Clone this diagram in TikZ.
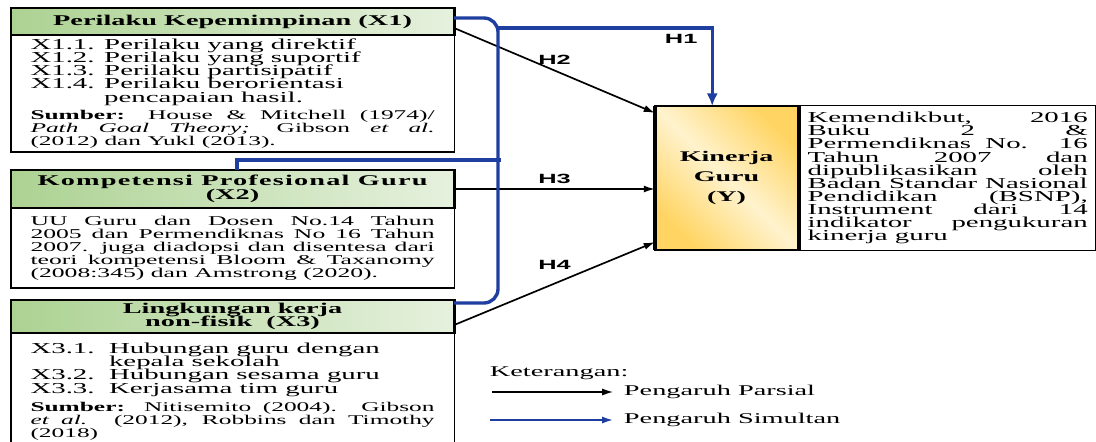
\documentclass[tikz,border=0pt]{standalone}
\usepackage{fontspec}
\setmainfont{Liberation Serif}[FakeStretch=1.9]
\newfontfamily\hfont{Liberation Sans}[FakeStretch=1.9]
\usetikzlibrary{arrows.meta,shapes,positioning,calc}

\definecolor{hdrgreen}{RGB}{172,210,146}
\definecolor{hdrpale}{RGB}{230,241,222}
\definecolor{ygold}{RGB}{255,212,98}
\definecolor{ypale}{RGB}{255,243,206}
\definecolor{simblue}{RGB}{30,62,160}

\setlength{\lineskiplimit}{-10pt}
\setlength{\normallineskiplimit}{-10pt}
\newcommand{\tightfont}[2]{\fontsize{#1}{#2}\selectfont\lineskiplimit=-10pt\relax}
\newcommand{\itemfont}{\tightfont{10.8}{9.4}}
\newcommand{\srcfont}{\tightfont{9.5}{9.3}}

\begin{document}
\begin{tikzpicture}[x=0.025cm, y=-0.025cm,
    >={Latex[length=8pt,width=5pt]},
    head/.style={rectangle, draw, line width=2pt, outer sep=0pt, inner sep=0pt,
        left color=hdrgreen, right color=hdrpale, minimum width=11.075cm,
        align=center, font=\bfseries\tightfont{10.6}{9.8}},
    body/.style={rectangle, draw, line width=0.9pt, outer sep=0pt, minimum width=11.075cm,
        text width=10.1cm, inner xsep=0.49cm, inner ysep=2pt, align=justify},
    ybox/.style={rectangle, draw, line width=0.9pt, outer sep=0pt,
        left color=ygold, right color=ygold, middle color=ypale, shading angle=135,
        minimum width=3.575cm, minimum height=3.6cm, align=center,
        font=\bfseries\tightfont{10.5}{14.2}},
    srcbox/.style={rectangle, draw, line width=0.8pt, outer sep=0pt,
        minimum width=7.375cm, minimum height=3.625cm, text width=7cm, inner xsep=0.19cm,
        align=justify, font=\tightfont{10.8}{9.3}},
    partial/.style={->, line width=1.2pt},
    simul/.style={line width=2.4pt, draw=simblue},
    hlabel/.style={font=\hfont\bfseries\fontsize{9.5}{10}\selectfont},
    legend/.style={anchor=west, font=\fontsize{10.6}{12}\selectfont}]

  \useasboundingbox (0,0) rectangle (1096,441);

  % Variabel X1
  \node [head, anchor=north west, minimum height=0.675cm] (x1_head) at (11,8) {Perilaku Kepemimpinan (X1)};
  \node [body, below=0pt of x1_head, minimum height=2.925cm] (x1_body) {%
    {\itemfont X1.1. Perilaku yang direktif\\
    X1.2. Perilaku yang suportif\\
    X1.3. Perilaku partisipatif\\
    X1.4. Perilaku berorientasi\\
    \phantom{X1.4. }pencapaian hasil.\par}
    \vspace{3pt}
    {\srcfont\textbf{Sumber:} House \& Mitchell (1974)/\linebreak
    \textit{Path Goal Theory;} Gibson \textit{et al.}\linebreak
    (2012) dan Yukl (2013).\par}};

  % Variabel X2
  \node [head, anchor=north west, minimum height=0.95cm] (x2_head) at (11,170)
    {\addfontfeature{LetterSpace=8}Kompetensi Profesional Guru\\(X2)};
  \node [body, below=0pt of x2_head, minimum height=2cm] (x2_body) {%
    {\tightfont{9.6}{9.3}UU Guru dan Dosen No.14 Tahun\linebreak
    2005 dan Permendiknas No 16 Tahun\linebreak
    2007. juga diadopsi dan disentesa dari\linebreak
    teori kompetensi Bloom \& Taxanomy\linebreak
    (2008:345) dan Amstrong (2020).\par}};

  % Variabel X3
  \node [head, anchor=north west, minimum height=0.825cm] (x3_head) at (11,300) {Lingkungan kerja\\non-fisik\ \ (X3)};
  \node [body, below=0pt of x3_head, inner ysep=7pt] (x3_body) {%
    {\itemfont X3.1.\ \ Hubungan guru dengan\\
    \phantom{X3.1.\ \ }kepala sekolah\\
    X3.2.\ \ Hubungan sesama guru\\
    X3.3.\ \ Kerjasama tim guru\par}
    \vspace{4pt}
    {\srcfont\textbf{Sumber:} Nitisemito (2004). Gibson\linebreak
    \textit{et al.} (2012), Robbins dan Timothy\linebreak
    (2018)\par}};

  % Variabel Y
  \node [ybox, anchor=north west] (y_box) at (655,106) {Kinerja\\Guru\\(Y)};
  \draw [line width=3.5pt] (y_box.north west) -- (y_box.south west);
  \node [srcbox, right=0.05cm of y_box] (y_src) {Kemendikbut, 2016\linebreak
    Buku 2 \&\linebreak
    Permendiknas No. 16\linebreak
    Tahun 2007 dan\linebreak
    dipublikasikan oleh\linebreak
    Badan Standar Nasional\linebreak
    Pendidikan (BSNP),\linebreak
    Instrument dari 14\linebreak
    indikator pengukuran\linebreak
    kinerja guru};

  % Pengaruh parsial
  \draw [partial] ($(x1_head.south east)+(0,-7)$) -- node[hlabel, above] {H2} ($(y_box.north west)+(0,7)$);
  \draw [partial] (x2_head.east) -- node[hlabel, above] {H3} (y_box.west |- x2_head.east);
  \draw [partial] ($(x3_head.south east)+(0,-8)$) -- node[hlabel, above=6pt] {H4} ($(y_box.south west)+(0,-8)$);

  % Pengaruh simultan
  \coordinate (bus_top) at (498,28);
  \coordinate (bus_mid) at (501,160);
  \draw [simul, rounded corners=10pt] ($(x1_head.north east)+(0,10)$) -- (498,18) -- (498,303) -- ($(x3_head.north east)+(0,3)$);
  \draw [simul] ($(x2_head.north west)!0.51!(x2_head.north east)$) |- (bus_mid);
  \draw [simul, -{Latex[length=9pt,width=8pt]}] (bus_top) -| node[hlabel, pos=0.5, below left, text=black, xshift=-6pt] {H1}
    ($(y_box.north west)!0.4!(y_box.north east)$);

  % Keterangan
  \node [legend] (legend_title) at (485,373) {Keterangan:};
  \node [legend] (parsial_text) at (619,392) {Pengaruh Parsial};
  \node [legend] (simultan_text) at (619,420) {Pengaruh Simultan};
  \coordinate (parsial_start) at (492,392);
  \coordinate (simultan_start) at (490,420);
  \draw [partial, shorten >=4pt] (parsial_start) -- (parsial_text.west);
  \draw [line width=1.4pt, draw=simblue, ->, shorten >=4pt] (simultan_start) -- (simultan_text.west);

\end{tikzpicture}
\end{document}
